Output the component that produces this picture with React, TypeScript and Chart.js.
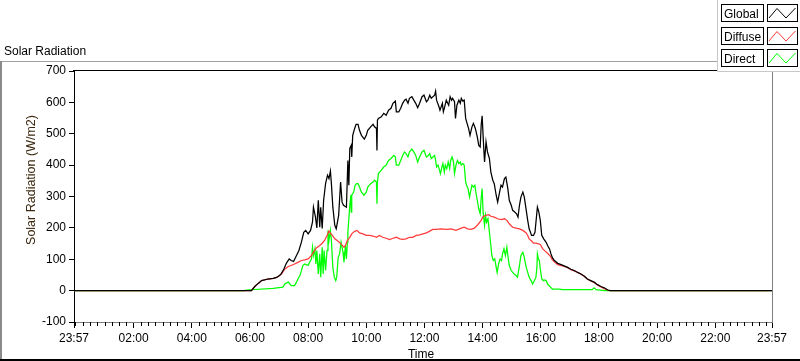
import React, { useEffect, useRef } from "react";
import { Chart, registerables } from "chart.js";

Chart.register(...registerables);

const chartTitle = "Solar Radiation";
const xAxisTitle = "Time";
const yAxisTitle = "Solar Radiation (W/m2)";
const seriesNames = ["Global", "Diffuse", "Direct"];
const seriesColors = ["#000000", "#ff3a3a", "#00ff00"];

// x values are minutes since midnight; range is 23:57 (prev. day) .. 23:57
const xMin = -3;
const xMax = 1437;
const majorTickMinutes = [-3, 120, 240, 360, 480, 600, 720, 840, 960, 1080, 1200, 1320, 1437];
const minorTickStep = 15;
const yMin = -100;
const yMax = 700;
const yStep = 100;

const globalTimes = [-3, 349, 363, 370, 377, 384, 390, 397, 408, 415, 421, 425, 430, 435, 441, 445, 450, 456, 461, 466, 471, 475, 480, 485, 489, 491, 495, 498, 501, 504, 506, 509, 512, 516, 520, 523, 526, 528, 531, 535, 538, 543, 547, 550, 553, 559, 562, 564, 566, 569, 570, 572, 576, 579, 583, 586, 590, 596, 600, 603, 609, 614, 617, 621, 622, 623, 625, 631, 636, 641, 646, 651, 655, 660, 662, 667, 671, 675, 679, 682, 686, 689, 694, 698, 702, 706, 710, 715, 719, 724, 727, 731, 734, 741, 743, 745, 750, 752, 757, 759, 761, 765, 768, 770, 773, 776, 778, 782, 784, 787, 791, 794, 796, 799, 802, 805, 807, 811, 814, 818, 821, 825, 829, 832, 835, 837, 839, 842, 844, 847, 850, 854, 857, 861, 864, 868, 871, 875, 878, 881, 885, 888, 892, 895, 899, 902, 905, 910, 913, 916, 919, 923, 926, 930, 933, 936, 941, 945, 948, 951, 953, 956, 959, 962, 966, 971, 974, 978, 981, 984, 988, 995, 1002, 1008, 1015, 1022, 1029, 1036, 1043, 1050, 1056, 1063, 1070, 1077, 1084, 1091, 1098, 1103, 1437];
const globalValues = [0, 0, 0, 13, 23, 32, 34, 37, 39, 42, 48, 55, 69, 87, 101, 96, 93, 112, 128, 154, 186, 192, 181, 192, 218, 266, 236, 200, 288, 202, 266, 198, 288, 341, 368, 357, 381, 341, 266, 208, 197, 240, 346, 282, 272, 266, 415, 336, 453, 463, 426, 495, 517, 530, 530, 511, 495, 483, 495, 511, 522, 530, 522, 517, 447, 543, 549, 554, 565, 559, 575, 581, 597, 604, 570, 570, 581, 597, 607, 610, 597, 613, 618, 607, 597, 583, 597, 618, 623, 602, 607, 623, 613, 623, 636, 607, 586, 575, 597, 570, 581, 607, 597, 591, 618, 607, 613, 602, 549, 591, 607, 597, 613, 604, 607, 549, 538, 517, 495, 522, 533, 517, 490, 463, 458, 527, 557, 463, 410, 474, 442, 421, 378, 352, 341, 304, 282, 314, 336, 330, 357, 362, 325, 288, 272, 256, 252, 245, 234, 272, 298, 314, 298, 256, 224, 197, 176, 176, 186, 234, 266, 250, 224, 176, 165, 154, 144, 133, 117, 105, 96, 87, 83, 79, 74, 68, 64, 58, 53, 46, 37, 32, 27, 19, 13, 9, 2, 0, 0];

const diffuseTimes = [-3, 349, 363, 370, 377, 384, 390, 397, 408, 415, 421, 425, 432, 439, 445, 452, 459, 466, 473, 480, 487, 491, 497, 504, 509, 514, 519, 523, 526, 530, 535, 540, 548, 554, 557, 561, 566, 570, 576, 581, 586, 593, 600, 607, 614, 621, 627, 634, 641, 648, 655, 662, 669, 675, 682, 689, 696, 703, 710, 717, 724, 730, 737, 744, 754, 765, 775, 785, 796, 802, 809, 816, 823, 830, 837, 840, 846, 853, 857, 864, 871, 878, 885, 890, 895, 902, 909, 916, 923, 930, 933, 936, 941, 945, 950, 955, 959, 964, 969, 974, 980, 984, 989, 995, 1002, 1008, 1015, 1022, 1029, 1036, 1043, 1050, 1056, 1063, 1070, 1077, 1084, 1091, 1098, 1103, 1437];
const diffuseValues = [0, 0, 0, 13, 23, 32, 34, 37, 39, 42, 48, 53, 69, 77, 80, 85, 90, 96, 98, 101, 112, 122, 136, 144, 151, 160, 176, 190, 183, 176, 165, 160, 149, 138, 144, 160, 170, 181, 189, 192, 184, 181, 176, 176, 174, 170, 176, 170, 167, 163, 167, 170, 165, 163, 165, 170, 170, 176, 178, 181, 184, 189, 195, 195, 197, 195, 197, 192, 199, 202, 197, 195, 199, 210, 224, 234, 240, 242, 237, 234, 229, 226, 229, 224, 213, 202, 199, 197, 192, 184, 176, 165, 158, 151, 151, 149, 147, 133, 126, 119, 109, 98, 90, 83, 80, 77, 74, 67, 63, 58, 52, 45, 37, 31, 26, 18, 12, 6, 2, 0, 0];

const directTimes = [-3, 349, 353, 408, 428, 432, 439, 445, 452, 456, 459, 463, 466, 469, 473, 476, 480, 483, 487, 489, 491, 494, 496, 498, 501, 504, 506, 509, 511, 513, 516, 519, 521, 523, 526, 528, 531, 534, 537, 539, 542, 545, 548, 552, 554, 557, 559, 561, 562, 564, 566, 568, 569, 570, 574, 577, 580, 583, 586, 590, 595, 600, 603, 609, 614, 617, 621, 622, 623, 625, 631, 636, 641, 646, 651, 657, 660, 662, 667, 671, 675, 679, 682, 686, 689, 694, 698, 702, 706, 710, 715, 719, 724, 727, 731, 734, 741, 743, 745, 748, 751, 753, 756, 758, 761, 763, 766, 769, 772, 774, 777, 780, 782, 785, 788, 791, 794, 796, 799, 802, 805, 807, 810, 813, 815, 818, 821, 824, 826, 829, 832, 835, 837, 839, 841, 844, 846, 848, 851, 854, 857, 859, 862, 865, 868, 870, 873, 876, 879, 881, 884, 887, 890, 892, 895, 899, 902, 905, 909, 912, 916, 919, 923, 926, 930, 933, 936, 940, 943, 947, 950, 952, 953, 955, 957, 959, 962, 965, 967, 971, 974, 980, 984, 998, 1005, 1066, 1070, 1074, 1091, 1437];
const directValues = [0, 0, 2, 7, 11, 21, 27, 16, 16, 27, 37, 48, 62, 80, 85, 83, 80, 90, 101, 138, 112, 133, 85, 128, 53, 117, 43, 138, 53, 128, 64, 128, 192, 160, 192, 160, 74, 43, 32, 43, 106, 117, 154, 122, 90, 144, 101, 154, 186, 229, 272, 304, 250, 304, 314, 336, 341, 341, 330, 314, 304, 314, 330, 341, 346, 352, 346, 277, 346, 373, 384, 394, 400, 415, 421, 431, 426, 400, 400, 415, 431, 442, 437, 426, 442, 451, 442, 431, 410, 426, 442, 447, 426, 429, 437, 421, 431, 415, 394, 400, 384, 373, 394, 405, 378, 400, 389, 410, 389, 415, 426, 410, 373, 400, 415, 405, 410, 400, 405, 400, 346, 336, 325, 298, 314, 336, 330, 336, 314, 288, 261, 245, 293, 325, 250, 208, 240, 218, 229, 186, 144, 112, 96, 101, 74, 58, 85, 101, 96, 117, 133, 112, 138, 112, 80, 64, 58, 53, 48, 43, 80, 112, 122, 106, 74, 58, 43, 32, 21, 32, 43, 74, 117, 101, 96, 69, 37, 32, 34, 32, 21, 11, 5, 5, 3, 3, 9, 3, 0, 0];

const FONT = '"Liberation Sans", Arial, sans-serif';

function formatClock(m: number): string {
  const mm = ((Math.round(m) % 1440) + 1440) % 1440;
  const h = Math.floor(mm / 60);
  const mi = mm % 60;
  return String(h).padStart(2, "0") + ":" + String(mi).padStart(2, "0");
}

function toPoints(times: number[], values: number[]) {
  return times.map((t, i) => ({ x: t, y: values[i] }));
}

const decorPlugin = {
  id: "decor",
  afterDraw(chart: any) {
    const { ctx, chartArea: a, scales } = chart;
    const xs = scales.x;
    ctx.save();

    // outer graph frame
    ctx.strokeStyle = "#a0a0a0";
    ctx.lineWidth = 1;
    ctx.beginPath();
    ctx.moveTo(0, 61.5);
    ctx.lineTo(800, 61.5);
    ctx.stroke();
    ctx.fillStyle = "#8a8a8a";
    ctx.fillRect(0, 61, 2, 300);
    ctx.fillStyle = "#000";
    ctx.fillRect(0, 359, 800, 2);

    // plot frame: top black, right gray
    ctx.strokeStyle = "#000";
    ctx.beginPath();
    ctx.moveTo(a.left - 1, a.top - 0.5);
    ctx.lineTo(a.right + 1, a.top - 0.5);
    ctx.stroke();
    ctx.strokeStyle = "#808080";
    ctx.beginPath();
    ctx.moveTo(a.right + 0.5, a.top);
    ctx.lineTo(a.right + 0.5, a.bottom + 1);
    ctx.stroke();

    // minor ticks
    ctx.strokeStyle = "#000";
    ctx.beginPath();
    for (let m = 0; m < 1440; m += minorTickStep) {
      if (m % 120 === 0 && m !== 0) continue;
      const px = Math.round(xs.getPixelForValue(m)) + 0.5;
      ctx.moveTo(px, a.bottom);
      ctx.lineTo(px, a.bottom + 4);
    }
    ctx.stroke();

    // titles
    ctx.fillStyle = "#000";
    ctx.font = "12px " + FONT;
    ctx.textAlign = "left";
    ctx.textBaseline = "alphabetic";
    ctx.fillText(chartTitle, 4, 55);
    ctx.textAlign = "center";
    ctx.fillText(xAxisTitle, (a.left + a.right) / 2 - 2, 358);
    ctx.save();
    ctx.translate(35, 180);
    ctx.rotate(-Math.PI / 2);
    ctx.fillStyle = "#3c2810";
    ctx.font = "12.5px " + FONT;
    ctx.textBaseline = "alphabetic";
    ctx.fillText(yAxisTitle, 0, 0);
    ctx.restore();

    // legend panel
    ctx.fillStyle = "#fff";
    ctx.fillRect(717, 0, 83, 72);
    ctx.strokeStyle = "#c8c8c8";
    ctx.beginPath();
    ctx.moveTo(717.5, 0);
    ctx.lineTo(717.5, 71.5);
    ctx.lineTo(800, 71.5);
    ctx.stroke();
    const tops = [4, 27, 49];
    seriesNames.forEach((name, i) => {
      const top = tops[i];
      ctx.strokeStyle = "#000";
      ctx.lineWidth = 1;
      ctx.strokeRect(721.5, top + 0.5, 42, 17);
      ctx.strokeRect(767.5, top + 0.5, 30, 17);
      ctx.fillStyle = "#000";
      ctx.textAlign = "left";
      ctx.font = "12px " + FONT;
      ctx.fillText(name, 724, top + 14);
      ctx.strokeStyle = seriesColors[i];
      ctx.beginPath();
      ctx.moveTo(769, top + 14);
      ctx.lineTo(777, top + 4.5);
      ctx.lineTo(786, top + 14);
      ctx.lineTo(795.5, top + 4);
      ctx.stroke();
    });

    ctx.restore();
  },
};

export default function App() {
  const ref = useRef<HTMLCanvasElement | null>(null);
  useEffect(() => {
    if (!ref.current) return;
    const chart = new Chart(ref.current, {
      type: "line",
      data: {
        datasets: [
          { label: seriesNames[0], data: toPoints(globalTimes, globalValues), borderColor: seriesColors[0] },
          { label: seriesNames[1], data: toPoints(diffuseTimes, diffuseValues), borderColor: seriesColors[1] },
          { label: seriesNames[2], data: toPoints(directTimes, directValues), borderColor: seriesColors[2] },
        ].map((d) => ({ ...d, borderWidth: 1.25, pointRadius: 0, fill: false, tension: 0 })),
      },
      options: {
        animation: false,
        responsive: false,
        devicePixelRatio: 1,
        layout: { padding: { top: 71, right: 28, left: 0, bottom: 0 } },
        plugins: { legend: { display: false }, tooltip: { enabled: false }, title: { display: false } },
        scales: {
          x: {
            type: "linear",
            min: xMin,
            max: xMax,
            afterFit: (s: any) => {
              s.height = 39;
            },
            afterBuildTicks: (s: any) => {
              s.ticks = majorTickMinutes.map((v) => ({ value: v }));
            },
            ticks: {
              autoSkip: false,
              maxRotation: 0,
              padding: 3,
              color: "#000",
              font: { family: FONT, size: 12 },
              callback: (v: any) => formatClock(Number(v)),
            },
            grid: { drawOnChartArea: false, tickLength: 6, color: "#000" },
            border: { color: "#808080" },
          },
          y: {
            min: yMin,
            max: yMax,
            afterFit: (s: any) => {
              s.width = 74;
            },
            ticks: {
              stepSize: yStep,
              padding: 3,
              color: "#000",
              font: { family: FONT, size: 12 },
            },
            grid: { drawOnChartArea: false, tickLength: 5, color: "#000" },
            border: { color: "#000" },
          },
        },
      },
      plugins: [decorPlugin],
    } as any);
    return () => chart.destroy();
  }, []);
  return (
    <div style={{ position: "absolute", left: 0, top: 0, width: 800, height: 361, background: "#fff" }}>
      <canvas ref={ref} width={800} height={361} style={{ display: "block" }} />
    </div>
  );
}
